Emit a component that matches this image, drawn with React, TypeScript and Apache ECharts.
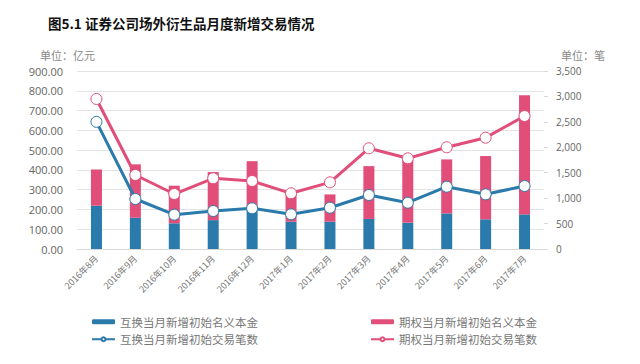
import React, { useEffect, useRef } from "react";
import * as echarts from "echarts";

const categories = ["2016年8月", "2016年9月", "2016年10月", "2016年11月", "2016年12月", "2017年1月", "2017年2月", "2017年3月", "2017年4月", "2017年5月", "2017年6月", "2017年7月"];
// 亿元
const swapNotional = [219, 158, 130, 146, 205, 138, 138, 152, 133, 180, 150, 175];
const optionNotional = [183, 270, 190, 243, 239, 160, 138, 267, 317, 273, 320, 603];
// 笔
const swapCount = [2500, 983, 675, 747, 800, 682, 812, 1062, 910, 1225, 1075, 1239];
const optionCount = [2950, 1455, 1081, 1390, 1337, 1095, 1311, 1980, 1783, 2000, 2189, 2615];

const leftTicks = [0, 900, 100];
const rightTicks = [0, 3500, 500];

const BLUE = "#2a7aab";
const PINK = "#e04e79";
const GRAY = "#666";
const FONT = "'Noto Sans CJK SC', 'Noto Sans', sans-serif";

export default function App() {
  const ref = useRef<HTMLDivElement>(null);
  useEffect(() => {
    document.body.style.margin = "0";
    const chart = echarts.init(ref.current!, null, { renderer: "svg" });
    chart.setOption({
      animation: false,
      backgroundColor: "#fff",
      textStyle: { fontFamily: FONT },
      title: [
        {
          text: "图5.1 证券公司场外衍生品月度新增交易情况",
          left: 43,
          top: 11,
          textStyle: { fontSize: 13.5, fontWeight: "bold", color: "#111", fontFamily: FONT },
        },
        {
          text: "单位：亿元",
          left: 35,
          top: 44,
          textStyle: { fontSize: 11, fontWeight: "normal", color: "#888", fontFamily: FONT },
        },
        {
          text: "单位：笔",
          left: 556,
          top: 44,
          textStyle: { fontSize: 11, fontWeight: "normal", color: "#888", fontFamily: FONT },
        },
      ],
      grid: { left: 77, right: 96, top: 71, bottom: 115 },
      legend: [
        {
          orient: "vertical",
          left: 86,
          top: 311,
          itemGap: 6,
          itemWidth: 23,
          itemHeight: 5,
          textStyle: { fontSize: 11.5, color: "#777", fontFamily: FONT },
          data: ["互换当月新增初始名义本金", "互换当月新增初始交易笔数"],
        },
        {
          orient: "vertical",
          left: 365,
          top: 311,
          itemGap: 6,
          itemWidth: 23,
          itemHeight: 5,
          textStyle: { fontSize: 11.5, color: "#777", fontFamily: FONT },
          data: ["期权当月新增初始名义本金", "期权当月新增初始交易笔数"],
        },
      ],
      xAxis: {
        type: "category",
        data: categories,
        axisLine: { lineStyle: { color: "#d9d9d9" } },
        axisTick: { show: false },
        axisLabel: { rotate: 45, fontSize: 9, color: "#777", margin: 8, interval: 0, fontFamily: FONT },
      },
      yAxis: [
        {
          type: "value",
          min: leftTicks[0],
          max: leftTicks[1],
          interval: leftTicks[2],
          axisLine: { show: false },
          axisTick: { show: false },
          splitLine: { lineStyle: { color: "#e3e3e3" } },
          axisLabel: { formatter: (v: number) => v.toFixed(2), fontSize: 11, color: GRAY, margin: 14, fontFamily: "'Open Sans', sans-serif" },
        },
        {
          type: "value",
          min: rightTicks[0],
          max: rightTicks[1],
          interval: rightTicks[2],
          axisLine: { show: false },
          axisTick: { show: true, length: 4, lineStyle: { color: "#d9d9d9" } },
          splitLine: { show: false },
          axisLabel: {
            formatter: (v: number) => v.toLocaleString("en-US"),
            fontSize: 10,
            color: GRAY,
            margin: 12,
            fontFamily: "'Open Sans', sans-serif",
          },
        },
      ],
      series: [
        {
          name: "互换当月新增初始名义本金",
          type: "bar",
          stack: "n",
          barWidth: 11,
          itemStyle: { color: BLUE },
          data: swapNotional,
        },
        {
          name: "期权当月新增初始名义本金",
          type: "bar",
          stack: "n",
          barWidth: 11,
          itemStyle: { color: PINK },
          data: optionNotional,
        },
        {
          name: "互换当月新增初始交易笔数",
          type: "line",
          yAxisIndex: 1,
          symbol: "circle",
          symbolSize: 11,
          lineStyle: { color: BLUE, width: 3 },
          itemStyle: { color: "#fff", borderColor: BLUE, borderWidth: 1 },
          data: swapCount,
        },
        {
          name: "期权当月新增初始交易笔数",
          type: "line",
          yAxisIndex: 1,
          symbol: "circle",
          symbolSize: 11,
          lineStyle: { color: PINK, width: 3 },
          itemStyle: { color: "#fff", borderColor: PINK, borderWidth: 1 },
          data: optionCount,
        },
      ],
    });
    return () => chart.dispose();
  }, []);
  return <div ref={ref} style={{ width: 640, height: 364 }} />;
}
